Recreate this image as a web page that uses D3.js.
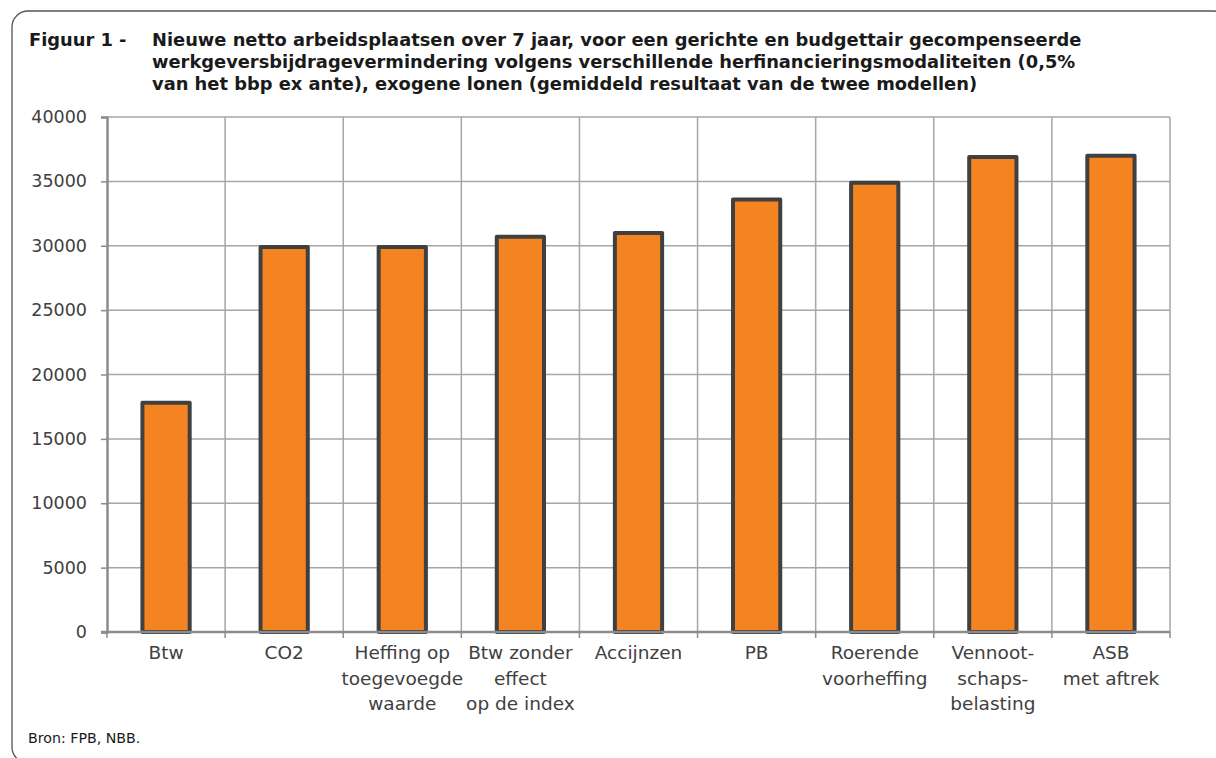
<!DOCTYPE html>
<html>
<head>
<meta charset="utf-8">
<script src="https://cdn.jsdelivr.net/npm/d3@7"></script>
<style>
  html, body { margin: 0; padding: 0; background: #fff; }
  svg { display: block; }
</style>
</head>
<body>
<svg id="chart" width="1216" height="758"></svg>
<script>
const categories = [
  ["Btw"],
  ["CO2"],
  ["Heffing op", "toegevoegde", "waarde"],
  ["Btw zonder", "effect", "op de index"],
  ["Accijnzen"],
  ["PB"],
  ["Roerende", "voorheffing"],
  ["Vennoot-", "schaps-", "belasting"],
  ["ASB", "met aftrek"]
];
const values = [17800, 29900, 29900, 30700, 31000, 33600, 34900, 36900, 37000];
const yTicks = [0, 5000, 10000, 15000, 20000, 25000, 30000, 35000, 40000];
const titleLabel = "Figuur 1 -";
const titleLines = [
  "Nieuwe netto arbeidsplaatsen over 7 jaar, voor een gerichte en budgettair gecompenseerde",
  "werkgeversbijdragevermindering volgens verschillende herfinancieringsmodaliteiten (0,5%",
  "van het bbp ex ante), exogene lonen (gemiddeld resultaat van de twee modellen)"
];
const sourceText = "Bron: FPB, NBB.";

const svg = d3.select("#chart");
const font = "'DejaVu Sans', Verdana, sans-serif";

// frame
svg.append("rect")
  .attr("x", 12).attr("y", 11)
  .attr("width", 1217).attr("height", 752)
  .attr("rx", 16).attr("ry", 16)
  .attr("fill", "none").attr("stroke", "#555").attr("stroke-width", 1.3);

// title
const tg = svg.append("g").attr("font-family", font).attr("font-weight", "bold").attr("fill", "#1a1a1a");
const tLabel = tg.append("text").attr("x", 29).attr("y", 46).attr("font-size", 16).text(titleLabel);
const tl = titleLines.map((s, i) => tg.append("text").attr("x", 152).attr("y", 46 + i * 22).attr("font-size", 16).text(s));
const w1 = tl[0].node().getComputedTextLength();
const fs = 16 * 930 / w1;
tl.forEach(t => t.attr("font-size", fs));
tLabel.attr("font-size", fs);

const margin = { left: 107, right: 1170, top: 117, bottom: 632 };
const x = d3.scaleBand().domain(d3.range(categories.length))
  .range([margin.left, margin.right]).paddingInner(0.6).paddingOuter(0.3);
const y = d3.scaleLinear().domain([0, 40000]).range([margin.bottom, margin.top]);

// horizontal grid
svg.append("g").selectAll("line").data(yTicks.filter(d => d > 0)).join("line")
  .attr("x1", margin.left).attr("x2", margin.right)
  .attr("y1", d => y(d)).attr("y2", d => y(d))
  .attr("stroke", "#a6a6a6").attr("stroke-width", 1.5);

// vertical grid at band boundaries
const step = x.step();
const bounds = d3.range(1, categories.length + 1).map(i => margin.left + i * step);
svg.append("g").selectAll("line").data(bounds).join("line")
  .attr("x1", d => d).attr("x2", d => d)
  .attr("y1", margin.top).attr("y2", margin.bottom)
  .attr("stroke", "#a6a6a6").attr("stroke-width", 1.5);

// bars
svg.append("g").selectAll("rect").data(values).join("rect")
  .attr("x", (d, i) => x(i))
  .attr("y", d => y(d))
  .attr("width", x.bandwidth())
  .attr("height", d => y(0) - y(d))
  .attr("fill", "#F48421")
  .attr("stroke", "#404040").attr("stroke-width", 4)
  .attr("stroke-linejoin", "round");

// y axis
const yAxis = svg.append("g").attr("transform", `translate(${margin.left},0)`)
  .call(d3.axisLeft(y).tickValues(yTicks).tickSize(6).tickPadding(14).tickFormat(d3.format("d")));
yAxis.select(".domain").attr("stroke", "#8c8c8c").attr("stroke-width", 2.5);
yAxis.selectAll(".tick line").attr("stroke", "#8c8c8c").attr("stroke-width", 1.5);
yAxis.selectAll(".tick text").attr("font-family", font).attr("font-size", 17.5).attr("fill", "#404040");

// x axis
const xg = svg.append("g").attr("transform", `translate(0,${margin.bottom})`);
xg.append("line").attr("x1", margin.left - 6).attr("x2", margin.right)
  .attr("stroke", "#8c8c8c").attr("stroke-width", 2.5);
xg.selectAll("line.tk").data([margin.left].concat(bounds)).join("line").attr("class", "tk")
  .attr("x1", d => d).attr("x2", d => d).attr("y1", 0).attr("y2", 6)
  .attr("stroke", "#8c8c8c").attr("stroke-width", 1.5);
const labels = xg.selectAll("text").data(categories).join("text")
  .attr("text-anchor", "middle")
  .attr("font-family", font).attr("font-size", 18.5).attr("fill", "#404040")
  .attr("transform", (d, i) => `translate(${x(i) + x.bandwidth() / 2},0)`);
labels.selectAll("tspan").data(d => d).join("tspan")
  .attr("x", 0).attr("y", (d, j) => 27 + j * 25.5).text(d => d);

// source
svg.append("text").attr("x", 28).attr("y", 743)
  .attr("font-family", font).attr("font-size", 14.2).attr("fill", "#1a1a1a").text(sourceText);
</script>
</body>
</html>
